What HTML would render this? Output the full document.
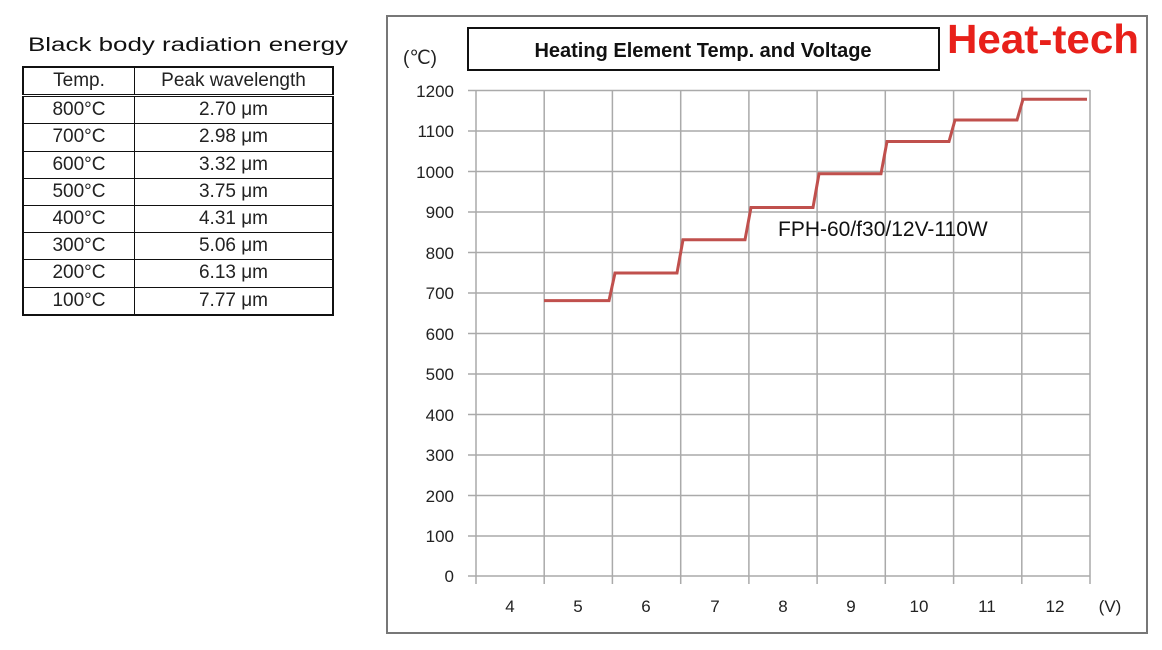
<!DOCTYPE html>
<html><head><meta charset="utf-8"><style>
body{margin:0;width:1162px;height:650px;background:#fff;position:relative;overflow:hidden;font-family:"Liberation Sans",sans-serif}
table{position:absolute;left:22px;top:66px;border-collapse:collapse;border:2px solid #111}
td{border:1px solid #111;height:26.2px;padding:0;font-size:19px;color:#222;text-align:center;line-height:26px}
tr:first-child td{border-bottom:3px double #111}
</style></head><body>
<table>
<tr><td style="width:110px">Temp.</td><td style="width:197px">Peak wavelength</td></tr>
<tr><td>800°C</td><td>2.70 μm</td></tr>
<tr><td>700°C</td><td>2.98 μm</td></tr>
<tr><td>600°C</td><td>3.32 μm</td></tr>
<tr><td>500°C</td><td>3.75 μm</td></tr>
<tr><td>400°C</td><td>4.31 μm</td></tr>
<tr><td>300°C</td><td>5.06 μm</td></tr>
<tr><td>200°C</td><td>6.13 μm</td></tr>
<tr><td>100°C</td><td>7.77 μm</td></tr>
</table>
<svg width="1162" height="650" style="position:absolute;left:0;top:0" font-family="Liberation Sans, sans-serif">
<text x="28" y="51" font-size="19" fill="#111" textLength="320" lengthAdjust="spacingAndGlyphs">Black body radiation energy</text>
<rect x="387" y="16" width="760" height="617" fill="#fff" stroke="#777" stroke-width="2"/>
<rect x="468" y="28" width="471" height="42" fill="#fff" stroke="#111" stroke-width="2"/>
<text x="703" y="57" font-size="20" font-weight="bold" text-anchor="middle" fill="#111">Heating Element Temp. and Voltage</text>
<text x="1043" y="53" font-size="41" font-weight="bold" text-anchor="middle" fill="#e8201a" textLength="192" lengthAdjust="spacingAndGlyphs">Heat-tech</text>
<text x="403" y="64" font-size="19" fill="#222">(℃)</text>
<g stroke="#aaa" stroke-width="1.5">
<line x1="468" y1="90.5" x2="1090" y2="90.5"/><line x1="468" y1="131" x2="1090" y2="131"/><line x1="468" y1="171.5" x2="1090" y2="171.5"/><line x1="468" y1="212" x2="1090" y2="212"/><line x1="468" y1="252.5" x2="1090" y2="252.5"/><line x1="468" y1="293" x2="1090" y2="293"/><line x1="468" y1="333.5" x2="1090" y2="333.5"/><line x1="468" y1="374" x2="1090" y2="374"/><line x1="468" y1="414.5" x2="1090" y2="414.5"/><line x1="468" y1="455" x2="1090" y2="455"/><line x1="468" y1="495.5" x2="1090" y2="495.5"/><line x1="468" y1="536" x2="1090" y2="536"/><line x1="468" y1="576" x2="1090" y2="576"/>
<line x1="476" y1="90" x2="476" y2="584"/><line x1="544.2" y1="90" x2="544.2" y2="584"/><line x1="612.4" y1="90" x2="612.4" y2="584"/><line x1="680.7" y1="90" x2="680.7" y2="584"/><line x1="748.9" y1="90" x2="748.9" y2="584"/><line x1="817.1" y1="90" x2="817.1" y2="584"/><line x1="885.3" y1="90" x2="885.3" y2="584"/><line x1="953.6" y1="90" x2="953.6" y2="584"/><line x1="1021.8" y1="90" x2="1021.8" y2="584"/><line x1="1090" y1="90" x2="1090" y2="584"/>
</g>
<g font-size="17" fill="#222" text-anchor="end">
<text x="454" y="97">1200</text><text x="454" y="137">1100</text><text x="454" y="178">1000</text><text x="454" y="218">900</text><text x="454" y="259">800</text><text x="454" y="299">700</text><text x="454" y="340">600</text><text x="454" y="380">500</text><text x="454" y="421">400</text><text x="454" y="461">300</text><text x="454" y="502">200</text><text x="454" y="542">100</text><text x="454" y="582">0</text>
</g>
<g font-size="17" fill="#222" text-anchor="middle">
<text x="510" y="612">4</text><text x="578" y="612">5</text><text x="646" y="612">6</text><text x="715" y="612">7</text><text x="783" y="612">8</text><text x="851" y="612">9</text><text x="919" y="612">10</text><text x="987" y="612">11</text><text x="1055" y="612">12</text><text x="1110" y="612">(V)</text>
</g>
<polyline fill="none" stroke="#c0504d" stroke-width="3" points="544,300.6 609,300.6 615,273 677,273 683,239.8 745,239.8 751,207.5 813,207.5 819,173.8 881,173.8 887,141.5 949,141.5 955,120 1017,120 1023,99.3 1087,99.3"/>
<text x="778" y="236" font-size="21" fill="#111">FPH-60/f30/12V-110W</text>
</svg>
</body></html>
